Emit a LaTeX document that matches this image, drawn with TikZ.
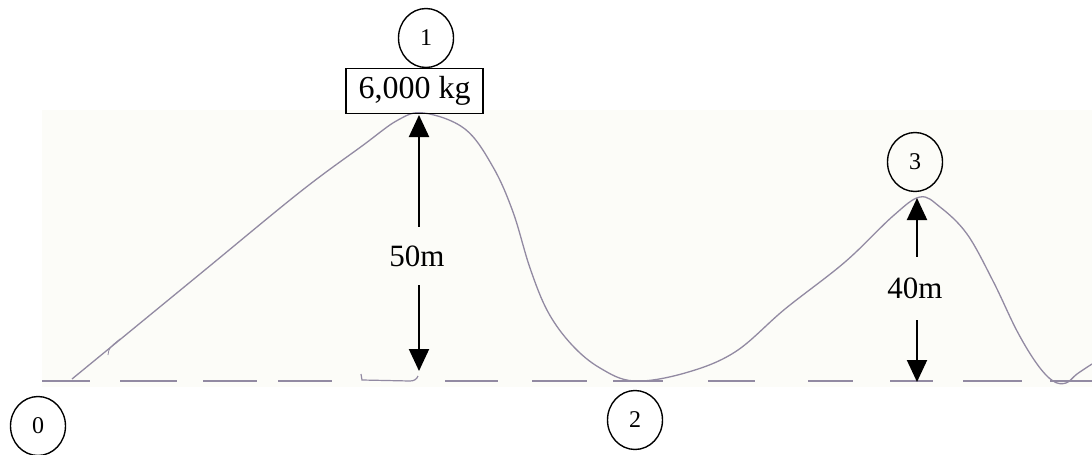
\documentclass[tikz,border=0pt]{standalone}
\usepackage{fontspec}
\setmainfont{Liberation Serif}
\usetikzlibrary{arrows.meta,shapes.geometric}
\definecolor{trackcol}{RGB}{146,138,162}
\definecolor{bgcol}{RGB}{252,252,248}
\begin{document}
\begin{tikzpicture}[x=1pt,y=-1pt,
  station/.style={ellipse,draw,line width=1.4pt,minimum width=55pt,minimum height=59pt,inner sep=0pt,font=\fontsize{24}{28}\selectfont},
  massbox/.style={draw,line width=1.4pt,minimum width=137pt,minimum height=45pt,inner sep=0pt,font=\fontsize{32}{36}\selectfont},
  heightlbl/.style={inner sep=0pt,font=\fontsize{31}{36}\selectfont},
  dimarrow/.style={line width=2pt,-{Triangle[length=22pt,width=20pt]}},
  track/.style={trackcol,line width=1.3pt},
  ground/.style={trackcol,line width=1.2pt}]

\useasboundingbox (0,0) rectangle (1092,455);
\fill[bgcol] (42,110) rectangle (1092,387);

% ground line (dashed, hand drawn)
\foreach \a/\b in {42/90,120/177,203/257,278/332,445/498,532/587,613/663,708/755,808/853,890/933,963/1022,1050/1092}
  \draw[ground] (\a,381) -- (\b,381);
\draw[ground] (361,374) -- (362,380) -- (410,381) to[out=0,in=-110] (418,376);

% track
\draw[track] plot[smooth,tension=0.6] coordinates {
  (72,379) (200,274) (300,192) (362,146) (398,120) (424,113)
  (465,129) (493,167) (513,212) (530,268) (548,312) (572,345) (600,368) (634,381)
  (685,373) (735,352) (785,309) (845,262) (893,216) (920,197) (940,207)
  (967,234) (993,281) (1017,331) (1037,364) (1053,381) (1066,383) (1077,374) (1092,364)};
\draw[track,line width=0.8pt] (108,355) .. controls (109,348) .. (120,339);

% stations
\node[station] (s0) at (38,426) {0};
\node[station] (s1) at (426,38) {1};
\node[station] (s2) at (635,420) {2};
\node[station] (s3) at (915,162) {3};

% mass box
\node[massbox] (mass) at (414.5,91) {6,000 kg};

% height dimensions
\coordinate (p1) at (419,115);
\coordinate (g1) at (419,371);
\node[heightlbl,minimum height=58pt] (h1) at (417,256) {50m};
\draw[dimarrow] (h1.north -| p1) -- (p1);
\draw[dimarrow] (h1.south -| g1) -- (g1);

\coordinate (p3) at (917,198);
\coordinate (g3) at (917,382);
\node[heightlbl,minimum height=63pt] (h3) at (915,288.5) {40m};
\draw[dimarrow] (h3.north -| p3) -- (p3);
\draw[dimarrow] (h3.south -| g3) -- (g3);
\end{tikzpicture}
\end{document}
